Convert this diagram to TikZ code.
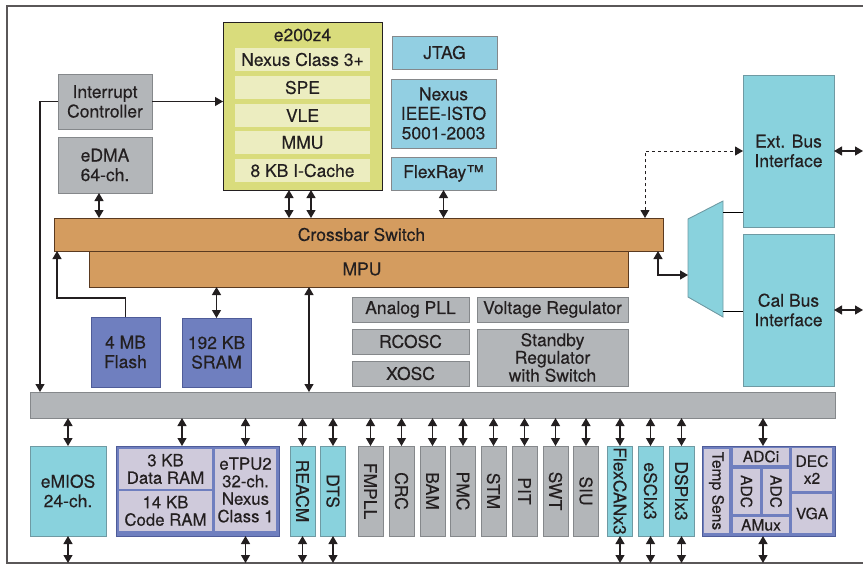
\documentclass[tikz,border=0pt]{standalone}
\usepackage{fontspec}
\setmainfont[FakeBold=0.3]{TeX Gyre Heros}
\usepackage{graphicx}
\usetikzlibrary{arrows.meta}

\definecolor{ink}{HTML}{231F20}
\definecolor{grayfill}{HTML}{B3B6B9}
\definecolor{grayedge}{HTML}{85888B}
\definecolor{corefill}{HTML}{D9DC7C}
\definecolor{coreitemfill}{HTML}{ECEDC0}
\definecolor{xbarfill}{HTML}{D49C5F}
\definecolor{xbaredge}{HTML}{5A3A20}
\definecolor{skyfill}{HTML}{92CFE2}
\definecolor{cyanfill}{HTML}{89D2DD}
\definecolor{cyanedge}{HTML}{6F9AA3}
\definecolor{memfill}{HTML}{6F7FBF}
\definecolor{memedge}{HTML}{4F5C99}
\definecolor{cellfill}{HTML}{CFCADB}

\newcommand{\blockfont}{\fontsize{17.5}{19.5}\selectfont}
\newcommand{\tightfont}{\fontsize{17.5}{16.5}\selectfont}
\newcommand{\tpufont}{\fontsize{16.8}{17.5}\selectfont}
\newcommand{\adcfont}{\fontsize{15.6}{17}\selectfont}
\newcommand{\vtext}[1]{\rotatebox{-90}{#1}}

\begin{document}
\begin{tikzpicture}[x=1pt, y=-1pt,
	every node/.style={inner sep=0pt, outer sep=0pt, align=center, text=ink, font=\blockfont},
	wh/.style 2 args={minimum width=#1pt, minimum height=#2pt},
	graybox/.style={draw=grayedge, fill=grayfill, line width=0.9pt},
	corebox/.style={draw=ink, fill=corefill, line width=0.9pt},
	coreitem/.style={fill=coreitemfill},
	xbarbox/.style={draw=xbaredge, fill=xbarfill, line width=0.9pt},
	skybox/.style={draw=grayedge, fill=skyfill, line width=0.9pt},
	cyanbox/.style={draw=cyanedge, fill=cyanfill, line width=0.9pt},
	membox/.style={draw=memedge, fill=memfill, line width=0.9pt},
	cellbox/.style={fill=cellfill},
	biarrow/.style={{Triangle[length=8pt,width=9pt]}-{Triangle[length=8pt,width=9pt]}, line width=1.2pt, draw=ink},
	onearrow/.style={-{Triangle[length=8pt,width=9pt]}, line width=1.2pt, draw=ink}]
	\useasboundingbox (0,0) rectangle (863,571);

	% outer frame, open to the right
	\draw[line width=1.5pt, draw=ink!75] (863,6) -- (7,6) -- (7,563) -- (863,563);
	\coordinate (fbot) at (0,563);
	\coordinate (fright) at (863,0);

	% core
	\node (core) at (302.5,106) [corebox, wh={159}{168}] {};
	\node (coretitle) at (302.5,35) {e200z4};
	\node (nexus3) at (302.5,59.5)	[coreitem, wh={135}{23}]	{Nexus Class 3+};
	\node (spe) at (302.5,87.5)	[coreitem, wh={135}{23}]	{SPE};
	\node (vle) at (302.5,115.5)	[coreitem, wh={135}{23}]	{VLE};
	\node (mmu) at (302.5,142.5)	[coreitem, wh={135}{23}]	{MMU};
	\node (icache) at (302.5,170.5)	[coreitem, wh={135}{23}]	{8 KB I-Cache};

	% left masters
	\node (intc) at (105,101.5)	[graybox, wh={94}{55}]	{Interrupt\\Controller};
	\node (edma) at (105,165)	[graybox, wh={94}{56}]	{eDMA\\64-ch.};

	% debug and flexray
	\node (jtag) at (444.5,52.5)	[skybox, wh={105}{33}]	{JTAG};
	\node (nexusieee) at (443.5,113.5)	[skybox, wh={105}{69}]	{Nexus\\IEEE-ISTO\\5001-2003};
	\node (flexray) at (443.5,173.5)	[skybox, wh={105}{33}]	{FlexRay™};

	% crossbar
	\node (xbar) at (358.5,234.5)	[xbarbox, wh={609}{33}]	{\hspace*{6pt}Crossbar Switch};
	\node (mpu) at (358.5,269)	[xbarbox, wh={539}{36}]	{\hspace*{7pt}MPU};

	% bus interfaces
	\node (ebi) at (788.5,151)	[cyanbox, wh={91}{152}]	{Ext. Bus\\Interface};
	\node (cbi) at (788.5,310)	[cyanbox, wh={91}{152}]	{Cal Bus\\Interface};
	\draw[draw=cyanedge, fill=cyanfill, line width=0.9pt] (688,219) -- (723,201) -- (723,317) -- (688,297) -- cycle;
	\coordinate (muxin) at (688,275);
	\coordinate (muxa) at (723,212);
	\coordinate (muxb) at (723,311);

	% memories
	\node (flash) at (125.5,352)	[membox, wh={69}{70}]	{4 MB\\Flash};
	\node (sram) at (216.5,352.5)	[membox, wh={69}{69}]	{192 KB\\SRAM};

	% clocks and power
	\node (apll) at (410.5,309.5)	[graybox, wh={117}{25}]	{Analog PLL};
	\node (rcosc) at (410.5,341.5)	[graybox, wh={117}{25}]	{RCOSC};
	\node (xosc) at (410.5,373.5)	[graybox, wh={117}{25}]	{XOSC};
	\node (vreg) at (552.5,309.5)	[graybox, wh={151}{25}]	{Voltage Regulator};
	\node (sbreg) at (552.5,357.5)	[graybox, wh={151}{57}, font=\tightfont]	{Standby\\Regulator\\with Switch};

	% peripheral bridge
	\node (bus) at (432.5,405)	[graybox, wh={805}{26}]	{};

	% peripherals
	\node (emios) at (68,491)	[cyanbox, wh={76}{90}]	{eMIOS\\24-ch.};
	\node (etpugrp) at (197.5,491)	[membox, wh={163}{90}]	{};
	\node (dram) at (165.5,469)	[cellbox, wh={93}{40}, font=\tpufont]	{3 KB\\Data RAM};
	\node (cram) at (165.5,511)	[cellbox, wh={93}{40}, font=\tpufont]	{14 KB\\Code RAM};
	\node (etpu) at (245.5,490)	[cellbox, wh={61}{82}, font=\tpufont]	{eTPU2\\32-ch.\\Nexus\\Class 1};
	\node (reacm) at (302.5,491)	[cyanbox, wh={25}{90}]	{\vtext{REACM}};
	\node (dts) at (333,491)	[cyanbox, wh={25}{90}]	{\vtext{DTS}};
	\node (fmpll) at (370.5,491)	[graybox, wh={25}{90}]	{\vtext{FMPLL}};
	\node (crc) at (401.5,491)	[graybox, wh={25}{90}]	{\vtext{CRC}};
	\node (bam) at (432.5,491)	[graybox, wh={25}{90}]	{\vtext{BAM}};
	\node (pmc) at (463,491)	[graybox, wh={25}{90}]	{\vtext{PMC}};
	\node (stm) at (493.5,491)	[graybox, wh={25}{90}]	{\vtext{STM}};
	\node (pit) at (524.5,491)	[graybox, wh={25}{90}]	{\vtext{PIT}};
	\node (swt) at (555.5,491)	[graybox, wh={25}{90}]	{\vtext{SWT}};
	\node (siu) at (586,491)	[graybox, wh={25}{90}]	{\vtext{SIU}};
	\node (flexcan) at (620,491)	[cyanbox, wh={25}{90}]	{\vtext{FlexCANx3}};
	\node (esci) at (650.5,491)	[cyanbox, wh={25}{90}]	{\vtext{eSCIx3}};
	\node (dspi) at (681.5,491)	[cyanbox, wh={25}{90}]	{\vtext{DSPIx3}};

	% analog block
	\node (adcgrp) at (768.5,491)	[membox, wh={133}{90}]	{};
	\node (temp) at (716.5,491)	[cellbox, wh={25}{84}, font=\adcfont]	{\vtext{Temp Sens}};
	\node (adci) at (761,456.5)	[cellbox, wh={56}{17}, font=\adcfont]	{ADCi};
	\node (adca) at (746.5,491.5)	[cellbox, wh={27}{45}, font=\adcfont]	{\vtext{ADC}};
	\node (adcb) at (776,491.5)	[cellbox, wh={26}{45}, font=\adcfont]	{\vtext{ADC}};
	\node (amux) at (761,525)	[cellbox, wh={56}{16}, font=\adcfont]	{AMux};
	\node (dec) at (812,469.5)	[cellbox, wh={40}{43}, font=\adcfont]	{DEC\\x2};
	\node (vga) at (812,513.5)	[cellbox, wh={40}{39}, font=\adcfont]	{VGA};

	% upper connections
	\draw[onearrow] (intc.east) -- (intc.east -| core.west);
	\draw[onearrow] (intc.west) -| ([xshift=10pt]bus.north west);
	\draw[biarrow] ([xshift=-6pt]edma.south) -- ([xshift=-6pt]edma.south |- xbar.north);
	\draw[biarrow] ([xshift=-13.5pt]core.south) -- ([xshift=-13.5pt]core.south |- xbar.north);
	\draw[biarrow] ([xshift=8.5pt]core.south) -- ([xshift=8.5pt]core.south |- xbar.north);
	\draw[biarrow] (flexray.south) -- (flexray.south |- xbar.north);
	\draw[biarrow, dashed, line width=1pt] ([xshift=-18pt]xbar.north east) |- (ebi.west);
	\draw[biarrow] ([xshift=-5pt]xbar.south east) |- (muxin);
	\draw[line width=0.9pt] (muxa) -- (muxa -| ebi.west);
	\draw[line width=0.9pt] (muxb) -- (muxb -| cbi.west);
	\draw[biarrow] (ebi.east) -- (ebi.east -| fright);
	\draw[biarrow] (cbi.east) -- (cbi.east -| fright);
	\draw[onearrow] (flash.north) -- ++(0,-19) -| ([xshift=3pt]xbar.south west);
	\draw[biarrow] (sram.north) -- (sram.north |- mpu.south);
	\draw[biarrow] ([xshift=220pt]mpu.south west) -- ([xshift=220pt]mpu.south west |- bus.north);

	% bridge to peripherals
	\draw[biarrow] (bus.south -| emios) -- (emios.north);
	\draw[biarrow] (bus.south -| dram.north east) ++(-30,0) -- ([xshift=-30pt]dram.north east |- etpugrp.north);
	\draw[biarrow] (bus.south -| etpu) -- (etpu |- etpugrp.north);
	\draw[biarrow] (bus.south -| reacm) -- (reacm.north);
	\draw[biarrow] (bus.south -| dts) -- (dts.north);
	\draw[biarrow] (bus.south -| fmpll) -- (fmpll.north);
	\draw[biarrow] (bus.south -| crc) -- (crc.north);
	\draw[biarrow] (bus.south -| bam) -- (bam.north);
	\draw[biarrow] (bus.south -| pmc) -- (pmc.north);
	\draw[biarrow] (bus.south -| stm) -- (stm.north);
	\draw[biarrow] (bus.south -| pit) -- (pit.north);
	\draw[biarrow] (bus.south -| swt) -- (swt.north);
	\draw[biarrow] (bus.south -| siu) -- (siu.north);
	\draw[biarrow] (bus.south -| flexcan) -- (flexcan.north);
	\draw[biarrow] (bus.south -| esci) -- (esci.north);
	\draw[biarrow] (bus.south -| dspi) -- (dspi.north);
	\draw[biarrow] (bus.south -| adcb.west) -- (adcgrp.north -| adcb.west);

	% pins
	\draw[biarrow] (emios.south) -- (emios.south |- fbot);
	\draw[biarrow] (etpugrp.south -| etpu) -- (etpu |- fbot);
	\draw[biarrow] (reacm.south) -- (reacm.south |- fbot);
	\draw[biarrow] (dts.south) -- (dts.south |- fbot);
	\draw[biarrow] (flexcan.south) -- (flexcan.south |- fbot);
	\draw[biarrow] (esci.south) -- (esci.south |- fbot);
	\draw[biarrow] (dspi.south) -- (dspi.south |- fbot);
	\draw[biarrow] (adcgrp.south -| adcb.west) -- (adcb.west |- fbot);
\end{tikzpicture}
\end{document}
